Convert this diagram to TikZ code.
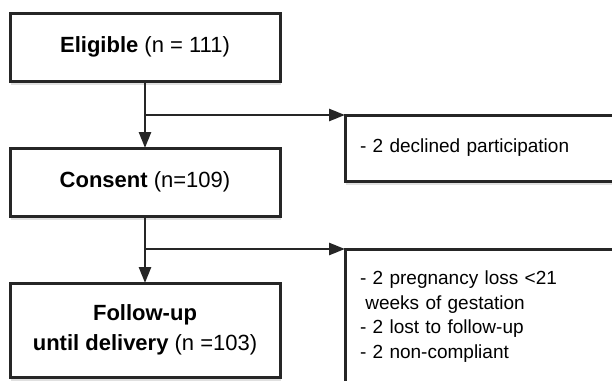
\documentclass[tikz,border=0pt]{standalone}
\usepackage{fontspec}
\setmainfont{Liberation Sans}
\usetikzlibrary{arrows.meta,shadows}
\definecolor{ink}{HTML}{262626}
\tikzset{
  boxshadow/.style={drop shadow={shadow xshift=1pt, shadow yshift=-4pt, opacity=.12, fill=black}},
  stage/.style={draw=ink, line width=3pt, fill=white, outer sep=0pt,
    minimum width=270pt, minimum height=68pt, align=center,
    font=\fontsize{22}{30}\selectfont, boxshadow},
  note/.style={draw=ink, line width=3pt, fill=white, outer sep=0pt,
    anchor=north west, text width=300pt, inner xsep=15pt, align=left,
    font=\fontsize{19}{24.5}\selectfont, boxshadow},
  flow/.style={draw=ink, line width=2.7pt, -{Triangle[length=16pt,width=12pt]}}
}
\begin{document}
\begin{tikzpicture}[x=1pt,y=-1pt]
      \useasboundingbox (0,0) rectangle (612,380);
      \clip (0,0) rectangle (612,380);
      \draw
        (145,47) node[stage] (eligible){\textbf{Eligible} (n = 111)}
        (145,182) node[stage] (consent){\textbf{Consent} (n=109)}
        (145,330) node[stage, minimum height=94pt] (followup){\textbf{Follow-up}\\\textbf{until delivery} (n =103)}
        (345,115) node[note, minimum height=66pt] (declined){- 2 declined participation}
        (345,249) node[note, inner ysep=22pt, text depth=150pt] (excluded){- 2 pregnancy loss <21\\\hspace*{.28em}weeks of gestation\\- 2 lost to follow-up\\- 2 non-compliant};
      \begin{scope}[flow]
        \draw (eligible.south) to (consent.north);
        \draw (consent.south) to (followup.north);
        \draw (eligible.south |- declined.north west) to (declined.north west);
        \draw (consent.south |- excluded.north west) to (excluded.north west);
      \end{scope}
    \end{tikzpicture}
\end{document}
